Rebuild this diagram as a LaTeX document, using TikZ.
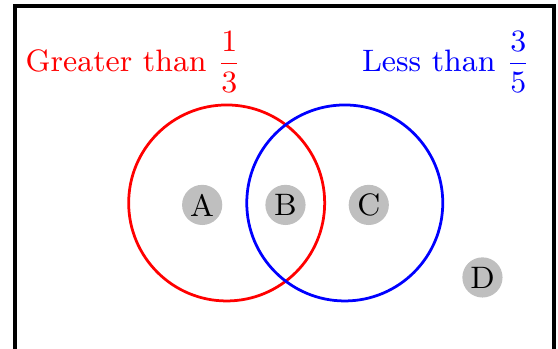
\documentclass[tikz,border=0pt]{standalone}
\usepackage{amsmath}
\begin{document}
\begin{tikzpicture}[
  font=\fontsize{9}{11}\selectfont,
  elem/.style={circle, fill=lightgray, inner sep=0pt, minimum size=0.41cm},
  setcirc/.style={thick}
]
\useasboundingbox (-0.153,0.01) rectangle (5.541,3.561);
\draw[line width=1pt] (0,-0.1) rectangle (5.5,3.5);
\draw[setcirc, red] (2.16,1.49) circle (1cm);
\draw[setcirc, blue] (3.365,1.49) circle (1cm);
\node[red] (lg) at (1.21,2.93) {Greater than $\dfrac{1}{3}$};
\node[blue] (ll) at (4.40,2.93) {Less than $\dfrac{3}{5}$};
\node[elem] (A) at (1.91,1.47) {A};
\node[elem] (B) at (2.76,1.47) {B};
\node[elem] (C) at (3.61,1.47) {C};
\node[elem] (D) at (4.77,0.73) {D};
\end{tikzpicture}
\end{document}
